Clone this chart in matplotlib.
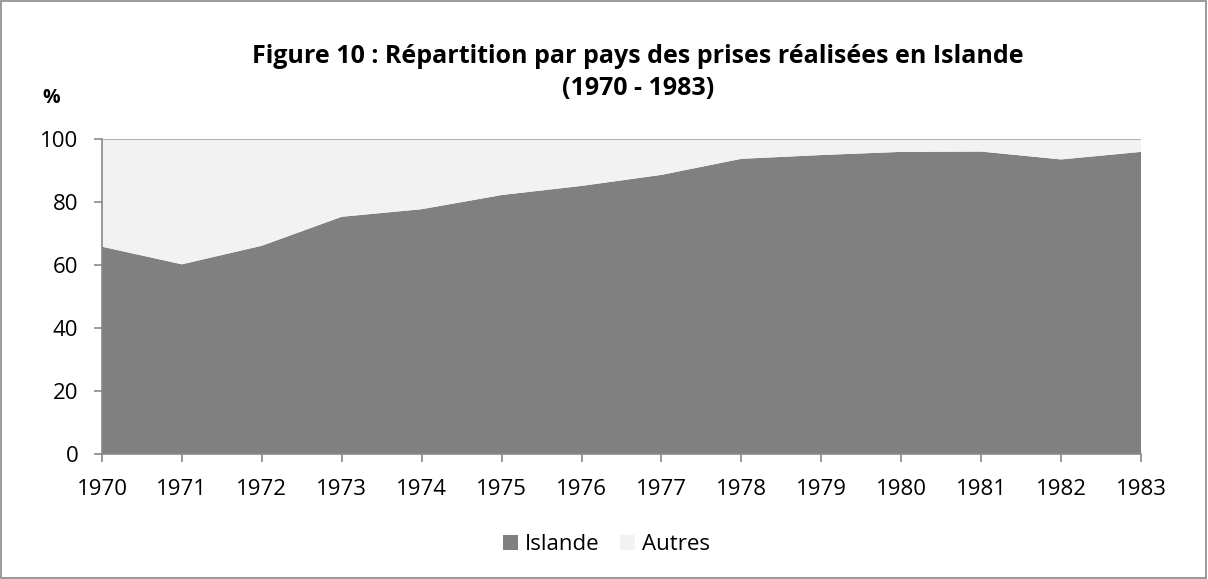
import matplotlib
matplotlib.use("Agg")
import matplotlib.pyplot as plt
from matplotlib.patches import Rectangle

years = [1970, 1971, 1972, 1973, 1974, 1975, 1976, 1977, 1978, 1979, 1980, 1981, 1982, 1983]
islande = [65.8, 60.2, 66.1, 75.3, 77.7, 82.2, 85.1, 88.6, 93.7, 94.9, 95.9, 96.0, 93.5, 95.9]
autres = [100 - v for v in islande]
series_labels = ["Islande", "Autres"]
colors = ["#808080", "#f2f2f2"]

plt.rcParams['font.family'] = ['Open Sans', 'DejaVu Sans']

fig = plt.figure(figsize=(12.08, 5.79), dpi=100)
fig.patches.append(Rectangle((0.001, 0.001), 0.997, 0.997, transform=fig.transFigure,
                             fill=False, edgecolor="#898989", linewidth=1.2))
ax = fig.add_axes([0.0844, 0.216, 0.8602, 0.544])
ax.stackplot(years, islande, autres, colors=colors, labels=series_labels, linewidth=0)
ax.set_xlim(years[0], years[-1])
ax.set_ylim(0, 100)
ax.set_yticks(range(0, 101, 20))
ax.set_xticks(years)
ax.set_xticklabels([str(y) for y in years])
ax.tick_params(axis='both', labelsize=16, colors="#898989", labelcolor="black", length=6, width=1.2)
ax.tick_params(axis='x', pad=12)
ax.tick_params(axis='y', pad=11)
for s in ["top", "right"]:
    ax.spines[s].set_visible(False)
for s in ["left", "bottom"]:
    ax.spines[s].set_color("#898989")
    ax.spines[s].set_linewidth(1.2)
ax.axhline(100, color="#a6a6a6", linewidth=1.2, zorder=3)

fig.text(0.528, 0.903, "Figure 10 : Répartition par pays des prises réalisées en Islande",
         ha="center", va="center", fontsize=18, fontweight="bold")
fig.text(0.528, 0.848, "(1970 - 1983)", ha="center", va="center", fontsize=18, fontweight="bold")
fig.text(0.035, 0.830, "%", ha="left", va="center", fontsize=14, fontweight="bold")

fig.legend(*ax.get_legend_handles_labels(), loc="center", bbox_to_anchor=(0.502, 0.059),
           ncol=2, frameon=False, fontsize=16, handlelength=0.7, handleheight=0.7,
           handletextpad=0.3, columnspacing=0.9)

fig.savefig("out.png", dpi=100)
